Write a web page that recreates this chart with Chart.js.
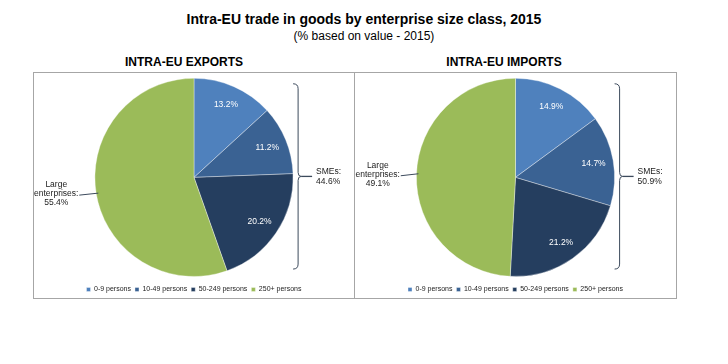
<!DOCTYPE html>
<html>
<head>
<meta charset="utf-8">
<script src="https://cdn.jsdelivr.net/npm/chart.js@4.4.1/dist/chart.umd.min.js"></script>
<style>
  body { margin: 0; background: #fff; font-family: 'Liberation Sans', Arial, sans-serif; }
  #wrap { position: relative; width: 728px; height: 364px; }
  .t { position: absolute; left: 0; width: 728px; text-align: center; color: #000; }
  .panel-title { position: absolute; text-align: center; font-weight: bold; font-size: 12px; color: #000; width: 200px; }
  .box { position: absolute; top: 72px; height: 227px; border: 1px solid #a6a6a6; box-sizing: border-box; }
  .box canvas { display: block; }
</style>
</head>
<body>
<div id="wrap">
  <div class="t" style="top:11px;font-size:14px;font-weight:bold;">Intra-EU trade in goods by enterprise size class, 2015</div>
  <div class="t" style="top:29px;font-size:12px;">(% based on value - 2015)</div>
  <div class="panel-title" style="left:84px;top:55px;">INTRA-EU EXPORTS</div>
  <div class="panel-title" style="left:404px;top:55px;">INTRA-EU IMPORTS</div>
  <div class="box" style="left:33px;width:322px;"><canvas id="exportsChart" width="320" height="230"></canvas></div>
  <div class="box" style="left:354px;width:323px;"><canvas id="importsChart" width="321" height="230"></canvas></div>
</div>
<script>
// Données
const sizeClasses = ['0-9 persons', '10-49 persons', '50-249 persons', '250+ persons'];
const exportsShare = [13.2, 11.2, 20.2, 55.4];
const importsShare = [14.9, 14.7, 21.2, 49.1];
const smeTotals = [44.6, 50.9];      // exports, imports
const largeTotals = [55.4, 49.1];

const colors = ['#4f81bd', '#3a6293', '#253e5f', '#9bbb59'];

Chart.defaults.font.family = "'Liberation Sans', Arial, sans-serif";
Chart.defaults.color = '#222';

// labels inside the slices, braces and side labels
const annotPlugin = {
    id: 'annot',
    afterDatasetsDraw(chart, args, opts) {
        const ctx = chart.ctx;
        const arcs = chart.getDatasetMeta(0).data;
        const values = chart.data.datasets[0].data;
        const cx = arcs[0].x, cy = arcs[0].y, r = arcs[0].outerRadius;
        ctx.save();
        // slice values
        ctx.fillStyle = '#fff';
        ctx.font = "8.5px 'Liberation Sans', Arial, sans-serif";
        ctx.textAlign = 'center';
        ctx.textBaseline = 'middle';
        arcs.forEach((a, i) => {
            if (i === 3) return;
            const mid = (a.startAngle + a.endAngle) / 2;
            ctx.fillText(values[i].toFixed(1) + '%', cx + Math.cos(mid) * r * 0.8, cy + Math.sin(mid) * r * 0.8);
        });

        // brace
        const top = cy - r * 0.945, bot = cy + r * 0.925, midY = (top + bot) / 2;
        const x0 = cx + r, x1 = cx + r + 5, tip = cx + r + 8;
        ctx.strokeStyle = '#3c4a5c';
        ctx.lineWidth = 1;
        ctx.beginPath();
        ctx.moveTo(x0, top);
        ctx.quadraticCurveTo(x1, top, x1, top + 5);
        ctx.lineTo(x1, midY - 4);
        ctx.quadraticCurveTo(x1, midY, tip, midY);
        ctx.quadraticCurveTo(x1, midY, x1, midY + 4);
        ctx.lineTo(x1, bot - 5);
        ctx.quadraticCurveTo(x1, bot, x0, bot);
        ctx.stroke();
        ctx.lineWidth = 1.3;
        ctx.beginPath();
        ctx.moveTo(tip, midY);
        ctx.lineTo(cx + r + 19, midY);
        ctx.stroke();

        ctx.fillStyle = '#222';
        ctx.font = "8.5px 'Liberation Sans', Arial, sans-serif";
        ctx.textAlign = 'left';
        ctx.fillText('SMEs:', cx + r + 23, midY - 5);
        ctx.fillText(opts.sme.toFixed(1) + '%', cx + r + 23, midY + 5);

        // large enterprises
        const big = arcs[3];
        const bm = (big.startAngle + big.endAngle) / 2;
        const ey = cy + Math.sin(bm) * r;
        const ex = cx + Math.cos(bm) * r;
        const lx = cx - r * 1.39;
        ctx.textAlign = 'center';
        ctx.fillText('Large', lx, ey - 9);
        ctx.fillText('enterprises:', lx, ey);
        ctx.fillText(opts.large.toFixed(1) + '%', lx, ey + 9);
        ctx.lineWidth = 1;
        ctx.beginPath();
        ctx.moveTo(lx + 23, ey + 1);
        ctx.lineTo(ex + 2, ey - 1);
        ctx.stroke();
        ctx.restore();
    }
};

function makePie(id, values, sme, large) {
    const ctx = document.getElementById(id).getContext('2d');
    return new Chart(ctx, {
        type: 'pie',
        data: {
            labels: sizeClasses,
            datasets: [{
                data: values,
                backgroundColor: colors,
                borderColor: 'rgba(255,255,255,0.6)',
                borderWidth: 0.6
            }]
        },
        options: {
            responsive: false,
            animation: false,
            layout: { padding: { top: 5, bottom: 0 } },
            plugins: {
                legend: {
                    position: 'bottom',
                    // empty title only used as a spacer above the items
                    title: { display: true, text: '', font: { size: 1 }, padding: { top: 4, bottom: 0 } },
                    labels: {
                        boxWidth: 4, boxHeight: 4, padding: 4,
                        font: { size: 7 }, color: '#222'
                    }
                },
                tooltip: { enabled: false },
                annot: { sme: sme, large: large }
            }
        },
        plugins: [annotPlugin]
    });
}

makePie('exportsChart', exportsShare, smeTotals[0], largeTotals[0]);
makePie('importsChart', importsShare, smeTotals[1], largeTotals[1]);
</script>
</body>
</html>
